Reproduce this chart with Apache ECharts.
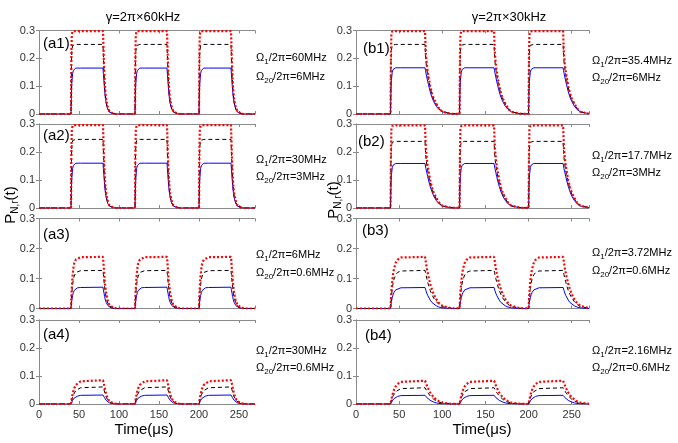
<!DOCTYPE html>
<html>
<head>
<meta charset="utf-8">
<script src="https://cdn.jsdelivr.net/npm/echarts@6/dist/echarts.min.js"></script>
<style>
	html,body{margin:0;padding:0;background:#fff;}
	#chart{width:678px;height:443px;}
</style>
</head>
<body>
<div id="chart"></div>
<script>
// time axis
var xTicks = [0, 50, 100, 150, 200, 250];
var yTicks = [0, 0.1, 0.2, 0.3];
var pulseStarts = [40, 120, 200];
// sample times inside one pulse period (from the start of the pulse)
var offsets = [0, 0.5, 1, 2, 3, 4, 6, 8, 12, 40, 40.5, 41, 42, 43, 44, 46, 48, 50, 53, 56, 60, 70];

// gamma = 2pi x 60kHz
var a1Blue  = [0, 0.07, 0.11, 0.145, 0.157, 0.162, 0.165, 0.165, 0.165, 0.165, 0.145, 0.125, 0.085, 0.057, 0.038, 0.017, 0.007, 0.003, 0.001, 0, 0, 0];
var a1Black = [0, 0.17, 0.225, 0.246, 0.249, 0.25, 0.25, 0.25, 0.25, 0.25, 0.21, 0.17, 0.105, 0.066, 0.042, 0.02, 0.008, 0.003, 0.001, 0, 0, 0];
var a1Red   = [0, 0.22, 0.285, 0.297, 0.298, 0.298, 0.298, 0.298, 0.298, 0.298, 0.25, 0.2, 0.125, 0.078, 0.05, 0.024, 0.01, 0.004, 0.001, 0, 0, 0];

var a2Blue  = [0, 0.065, 0.105, 0.14, 0.152, 0.157, 0.16, 0.16, 0.16, 0.16, 0.14, 0.121, 0.082, 0.055, 0.037, 0.016, 0.007, 0.003, 0.001, 0, 0, 0];
var a2Black = [0, 0.165, 0.22, 0.241, 0.244, 0.245, 0.245, 0.245, 0.245, 0.245, 0.206, 0.167, 0.103, 0.065, 0.041, 0.019, 0.008, 0.003, 0.001, 0, 0, 0];
var a2Red   = [0, 0.21, 0.28, 0.294, 0.296, 0.296, 0.296, 0.296, 0.296, 0.296, 0.248, 0.199, 0.124, 0.077, 0.05, 0.024, 0.01, 0.004, 0.001, 0, 0, 0];

var a3Blue  = [0, 0.015, 0.027, 0.043, 0.053, 0.06, 0.066, 0.069, 0.07, 0.071, 0.063, 0.055, 0.04, 0.028, 0.02, 0.01, 0.005, 0.002, 0.001, 0, 0, 0];
var a3Black = [0, 0.03, 0.052, 0.08, 0.098, 0.108, 0.12, 0.124, 0.126, 0.127, 0.113, 0.098, 0.071, 0.051, 0.036, 0.018, 0.009, 0.004, 0.001, 0, 0, 0];
var a3Red   = [0, 0.04, 0.07, 0.11, 0.135, 0.15, 0.163, 0.168, 0.171, 0.172, 0.155, 0.135, 0.098, 0.07, 0.05, 0.025, 0.012, 0.006, 0.002, 0.001, 0, 0];

var a4Blue  = [0, 0.004, 0.007, 0.013, 0.018, 0.021, 0.026, 0.028, 0.031, 0.032, 0.03, 0.027, 0.022, 0.017, 0.013, 0.007, 0.004, 0.002, 0.001, 0, 0, 0];
var a4Black = [0, 0.007, 0.014, 0.025, 0.033, 0.04, 0.048, 0.053, 0.058, 0.061, 0.057, 0.053, 0.043, 0.033, 0.025, 0.014, 0.007, 0.004, 0.001, 0, 0, 0];
var a4Red   = [0, 0.01, 0.02, 0.035, 0.047, 0.056, 0.068, 0.075, 0.081, 0.085, 0.08, 0.074, 0.06, 0.046, 0.035, 0.019, 0.01, 0.005, 0.002, 0.001, 0, 0];

// gamma = 2pi x 30kHz
var b1Blue  = [0, 0.08, 0.12, 0.15, 0.16, 0.164, 0.166, 0.166, 0.166, 0.166, 0.157, 0.148, 0.133, 0.118, 0.105, 0.08, 0.06, 0.045, 0.028, 0.017, 0.008, 0.001];
var b1Black = [0, 0.18, 0.23, 0.247, 0.25, 0.25, 0.25, 0.25, 0.25, 0.25, 0.215, 0.19, 0.162, 0.142, 0.124, 0.094, 0.07, 0.052, 0.035, 0.02, 0.008, 0.001];
var b1Red   = [0, 0.22, 0.285, 0.297, 0.298, 0.298, 0.298, 0.298, 0.298, 0.298, 0.25, 0.215, 0.18, 0.155, 0.135, 0.1, 0.075, 0.056, 0.038, 0.021, 0.008, 0.001];

var b2Blue  = [0, 0.075, 0.115, 0.144, 0.153, 0.157, 0.159, 0.159, 0.159, 0.159, 0.15, 0.141, 0.127, 0.113, 0.1, 0.077, 0.058, 0.043, 0.027, 0.016, 0.007, 0.001];
var b2Black = [0, 0.17, 0.22, 0.235, 0.238, 0.238, 0.238, 0.238, 0.238, 0.238, 0.205, 0.18, 0.154, 0.135, 0.118, 0.09, 0.067, 0.05, 0.033, 0.019, 0.008, 0.001];
var b2Red   = [0, 0.21, 0.28, 0.293, 0.295, 0.295, 0.295, 0.295, 0.295, 0.295, 0.25, 0.213, 0.178, 0.153, 0.133, 0.099, 0.074, 0.055, 0.037, 0.02, 0.008, 0.001];

var b3Blue  = [0, 0.012, 0.022, 0.036, 0.046, 0.053, 0.062, 0.066, 0.069, 0.07, 0.065, 0.06, 0.051, 0.044, 0.038, 0.028, 0.02, 0.015, 0.009, 0.005, 0.002, 0];
var b3Black = [0, 0.022, 0.04, 0.066, 0.085, 0.097, 0.112, 0.12, 0.125, 0.127, 0.12, 0.113, 0.1, 0.089, 0.078, 0.06, 0.046, 0.035, 0.023, 0.014, 0.006, 0.001];
var b3Red   = [0, 0.03, 0.055, 0.09, 0.115, 0.132, 0.152, 0.162, 0.17, 0.172, 0.163, 0.153, 0.135, 0.12, 0.106, 0.082, 0.063, 0.048, 0.031, 0.019, 0.009, 0.001];

var b4Blue  = [0, 0.003, 0.006, 0.011, 0.015, 0.019, 0.024, 0.027, 0.03, 0.031, 0.029, 0.027, 0.023, 0.02, 0.017, 0.013, 0.009, 0.007, 0.004, 0.002, 0.001, 0];
var b4Black = [0, 0.006, 0.011, 0.021, 0.029, 0.035, 0.044, 0.05, 0.055, 0.058, 0.055, 0.052, 0.047, 0.042, 0.037, 0.029, 0.022, 0.017, 0.011, 0.007, 0.003, 0];
var b4Red   = [0, 0.008, 0.016, 0.03, 0.041, 0.05, 0.063, 0.071, 0.079, 0.083, 0.079, 0.075, 0.067, 0.06, 0.053, 0.041, 0.032, 0.024, 0.016, 0.01, 0.005, 0.001];

var panelNames = ['(a1)', '(a2)', '(a3)', '(a4)', '(b1)', '(b2)', '(b3)', '(b4)'];
var omega1Text = ['60MHz', '30MHz', '6MHz', '30MHz', '35.4MHz', '17.7MHz', '3.72MHz', '2.16MHz'];
var omega20Text = ['6MHz', '3MHz', '0.6MHz', '0.6MHz', '6MHz', '3MHz', '0.6MHz', '0.6MHz'];
var columnTitles = ['\u03b3=2\u03c0\u00d760kHz', '\u03b3=2\u03c0\u00d730kHz'];

var blueData  = [a1Blue, a2Blue, a3Blue, a4Blue, b1Blue, b2Blue, b3Blue, b4Blue];
var blackData = [a1Black, a2Black, a3Black, a4Black, b1Black, b2Black, b3Black, b4Black];
var redData   = [a1Red, a2Red, a3Red, a4Red, b1Red, b2Red, b3Red, b4Red];

// layout
var cols = [{left: 39, width: 216}, {left: 356, width: 233}];
var rows = [{top: 30.5, height: 83.5}, {top: 124, height: 84}, {top: 218.5, height: 90}, {top: 320, height: 84}];
var labelPos = [[43, 44], [43, 136], [43, 235], [43, 335], [363, 49], [358, 142], [362, 231], [365, 336]];
var notePos = [[256, 58, 77], [256, 160, 177], [256, 255, 273], [256, 351, 368],
	[592, 61, 78], [592, 156, 173], [592, 253, 271], [592, 351, 368]];

var font = 'Liberation Sans, Arial, sans-serif';
var boxColor = '#8a8a8a';
var tickColor = '#333';

function buildCurve(vals){
	var d = [[0, 0]];
	for (var k = 0; k < pulseStarts.length; k++) {
		for (var i = 0; i < offsets.length; i++) {
			d.push([pulseStarts[k] + offsets[i], vals[i]]);
		}
	}
	d.push([270, 0]);
	return d;
}

var grids = [], xAxes = [], yAxes = [], series = [], graphics = [];

for (var p = 0; p < 8; p++) {
	var c = p < 4 ? 0 : 1;
	var r = p % 4;
	grids.push({left: cols[c].left, top: rows[r].top, width: cols[c].width, height: rows[r].height, containLabel: false});

	var xBase = {
		type: 'value', gridIndex: p, min: 0, max: 270, interval: 50,
		axisLine: {show: true, onZero: false, lineStyle: {color: boxColor, width: 1}},
		axisTick: {show: true, inside: true, length: 3, lineStyle: {color: boxColor}},
		splitLine: {show: false}
	};
	xAxes.push(echarts.util.merge({
		position: 'bottom',
		axisLabel: {show: r == 3, color: tickColor, fontSize: 11, fontFamily: font, margin: 5, showMaxLabel: false,
			formatter: function(v){ return xTicks.indexOf(v) >= 0 ? String(v) : ''; }}
	}, xBase, true));
	xAxes.push(echarts.util.merge({position: 'top', axisLabel: {show: false}}, xBase, true));

	var yBase = {
		type: 'value', gridIndex: p, min: 0, max: 0.3, interval: 0.1,
		axisTick: {show: true, inside: true, length: 3, lineStyle: {color: boxColor}},
		splitLine: {show: false}
	};
	yAxes.push(echarts.util.merge({
		position: 'left',
		axisLine: {show: p != 6, lineStyle: {color: boxColor, width: 1}},
		axisLabel: {show: true, color: tickColor, fontSize: 11, fontFamily: font, margin: 4,
			formatter: function(v){
				var t = Math.round(v * 10) / 10;
				return yTicks.indexOf(t) >= 0 ? (t == 0 ? '0' : t.toFixed(1)) : '';
			}}
	}, yBase, true));
	yAxes.push(echarts.util.merge({
		position: 'right',
		axisLine: {show: true, lineStyle: {color: boxColor, width: 1}},
		axisLabel: {show: false}
	}, yBase, true));

	series.push({type: 'line', xAxisIndex: 2 * p, yAxisIndex: 2 * p, symbol: 'none', z: 2,
		lineStyle: {color: '#0000ff', width: 1}, data: buildCurve(blueData[p])});
	series.push({type: 'line', xAxisIndex: 2 * p, yAxisIndex: 2 * p, symbol: 'none', z: 3,
		lineStyle: {color: '#000', width: 1, type: [4, 3]}, data: buildCurve(blackData[p])});
	series.push({type: 'line', xAxisIndex: 2 * p, yAxisIndex: 2 * p, symbol: 'none', z: 4,
		lineStyle: {color: '#ff0000', width: 2.2, type: [2, 2]}, data: buildCurve(redData[p])});

	graphics.push({type: 'text', x: labelPos[p][0], y: labelPos[p][1], z: 10,
		style: {text: panelNames[p], fontSize: 15, fontFamily: font, fill: '#000', align: 'left', verticalAlign: 'middle'}});

	var rich = {
		n: {fontSize: 11, fontFamily: font, fill: '#000', lineHeight: 16},
		s: {fontSize: 8, fontFamily: font, fill: '#000', lineHeight: 8, verticalAlign: 'bottom'}
	};
	graphics.push({type: 'text', x: notePos[p][0], y: notePos[p][1], z: 10,
		style: {text: '{n|\u03a9}{s|1}{n|/2\u03c0=' + omega1Text[p] + '}', rich: rich, align: 'left', verticalAlign: 'middle'}});
	graphics.push({type: 'text', x: notePos[p][0], y: notePos[p][2], z: 10,
		style: {text: '{n|\u03a9}{s|20}{n|/2\u03c0=' + omega20Text[p] + '}', rich: rich, align: 'left', verticalAlign: 'middle'}});
}

// column titles, axis names
graphics.push({type: 'text', x: 143, y: 17, style: {text: columnTitles[0], fontSize: 13, fontFamily: font, fill: '#000', align: 'center', verticalAlign: 'middle'}});
graphics.push({type: 'text', x: 509, y: 17, style: {text: columnTitles[1], fontSize: 13, fontFamily: font, fill: '#000', align: 'center', verticalAlign: 'middle'}});
graphics.push({type: 'text', x: 144, y: 430, style: {text: 'Time(\u03bcs)', fontSize: 15, fontFamily: font, fill: '#000', align: 'center', verticalAlign: 'middle'}});
graphics.push({type: 'text', x: 482, y: 430, style: {text: 'Time(\u03bcs)', fontSize: 15, fontFamily: font, fill: '#000', align: 'center', verticalAlign: 'middle'}});

var yRich = {
	n: {fontSize: 15, fontFamily: font, fill: '#000', lineHeight: 18},
	s: {fontSize: 10, fontFamily: font, fill: '#000', lineHeight: 10, verticalAlign: 'bottom'}
};
graphics.push({type: 'text', x: 11, y: 205, rotation: Math.PI / 2,
	style: {text: '{n|P}{s|N,r}{n|(t)}', rich: yRich, align: 'center', verticalAlign: 'middle'}});
graphics.push({type: 'text', x: 334, y: 200, rotation: Math.PI / 2,
	style: {text: '{n|P}{s|N,r}{n|(t)}', rich: yRich, align: 'center', verticalAlign: 'middle'}});

var myChart = echarts.init(document.getElementById('chart'), null, {renderer: 'canvas'});
var option = {
	animation: false,
	backgroundColor: '#fff',
	grid: grids,
	xAxis: xAxes,
	yAxis: yAxes,
	series: series,
	graphic: graphics
};
myChart.setOption(option);
</script>
</body>
</html>
